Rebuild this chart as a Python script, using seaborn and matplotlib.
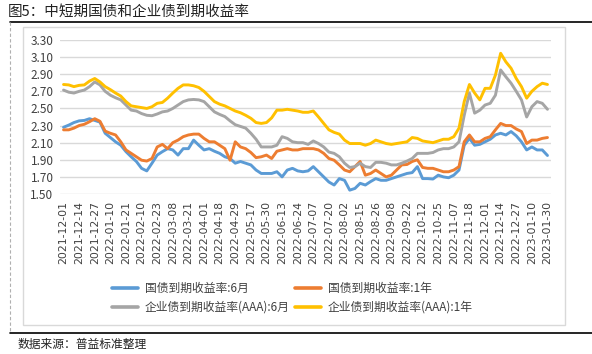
import matplotlib
matplotlib.use("Agg")
import matplotlib.pyplot as plt
import seaborn as sns
import numpy as np
import pandas as pd
from matplotlib.lines import Line2D
from matplotlib.patches import Rectangle

# ---------------- data ----------------
tick_labels = ["2021-12-01", "2021-12-14", "2021-12-27", "2022-01-10", "2022-01-21",
               "2022-02-10", "2022-02-23", "2022-03-08", "2022-03-21", "2022-04-01",
               "2022-04-18", "2022-04-29", "2022-05-17", "2022-05-30", "2022-06-13",
               "2022-06-24", "2022-07-07", "2022-07-20", "2022-08-02", "2022-08-15",
               "2022-08-26", "2022-09-08", "2022-09-22", "2022-10-12", "2022-10-25",
               "2022-11-07", "2022-11-18", "2022-12-01", "2022-12-14", "2022-12-27",
               "2023-01-10", "2023-01-30"]

gov_6m = [2.28, 2.305, 2.335, 2.355, 2.36, 2.38, 2.36, 2.34, 2.21, 2.16,
          2.11, 2.07, 1.995, 1.935, 1.88, 1.80, 1.77, 1.86, 1.955, 1.995,
          2.03, 2.015, 1.955, 2.03, 2.03, 2.13, 2.07, 2.015, 2.03, 2.00,
          1.975, 1.935, 1.915, 1.86, 1.88, 1.86, 1.84, 1.78, 1.74, 1.74,
          1.74, 1.76, 1.70, 1.78, 1.80, 1.77, 1.76, 1.77, 1.82, 1.76,
          1.70, 1.64, 1.605, 1.68, 1.66, 1.545, 1.565, 1.625, 1.605, 1.645,
          1.68, 1.66, 1.66, 1.68, 1.70, 1.72, 1.74, 1.75, 1.82, 1.68,
          1.68, 1.675, 1.72, 1.70, 1.69, 1.72, 1.78, 2.07, 2.15, 2.07,
          2.08, 2.11, 2.14, 2.19, 2.21, 2.19, 2.23, 2.18, 2.11, 2.015,
          2.05, 2.015, 2.015, 1.95]

gov_1y = [2.25, 2.25, 2.27, 2.30, 2.315, 2.345, 2.38, 2.35, 2.235, 2.21,
          2.19, 2.11, 2.015, 1.975, 1.935, 1.895, 1.885, 1.915, 2.05, 2.08,
          2.03, 2.10, 2.13, 2.17, 2.19, 2.20, 2.20, 2.15, 2.11, 2.11,
          2.07, 2.03, 1.895, 2.11, 2.05, 2.03, 1.985, 1.925, 1.935, 1.955,
          1.915, 2.00, 2.015, 2.03, 2.015, 2.015, 2.03, 2.03, 2.03, 2.015,
          1.975, 1.915, 1.895, 1.84, 1.78, 1.76, 1.82, 1.88, 1.72, 1.74,
          1.78, 1.74, 1.70, 1.72, 1.78, 1.84, 1.845, 1.88, 1.90, 1.81,
          1.80, 1.80, 1.78, 1.76, 1.76, 1.78, 1.82, 2.11, 2.19, 2.11,
          2.11, 2.15, 2.17, 2.25, 2.325, 2.30, 2.30, 2.26, 2.23, 2.09,
          2.13, 2.13, 2.15, 2.16]

corp_6m = [2.715, 2.69, 2.68, 2.70, 2.715, 2.755, 2.81, 2.775, 2.70, 2.655,
           2.625, 2.60, 2.54, 2.48, 2.47, 2.44, 2.42, 2.415, 2.435, 2.46,
           2.47, 2.50, 2.54, 2.58, 2.60, 2.605, 2.60, 2.58, 2.52, 2.46,
           2.43, 2.405, 2.355, 2.31, 2.29, 2.27, 2.21, 2.14, 2.05, 2.05,
           2.05, 2.07, 2.17, 2.15, 2.11, 2.10, 2.10, 2.08, 2.12, 2.09,
           2.05, 1.99, 1.975, 1.935, 1.86, 1.81, 1.82, 1.86, 1.82, 1.81,
           1.87, 1.87, 1.86, 1.84, 1.84, 1.86, 1.885, 1.915, 1.975, 1.975,
           1.975, 1.985, 2.015, 2.03, 2.03, 2.05, 2.11, 2.42, 2.68, 2.445,
           2.48, 2.54, 2.56, 2.655, 2.95, 2.87, 2.795, 2.70, 2.60, 2.40,
           2.52, 2.58, 2.56, 2.49]

corp_1y = [2.78, 2.775, 2.755, 2.77, 2.775, 2.82, 2.85, 2.81, 2.755, 2.72,
           2.68, 2.645, 2.58, 2.53, 2.52, 2.51, 2.50, 2.52, 2.56, 2.57,
           2.62, 2.68, 2.735, 2.775, 2.775, 2.765, 2.745, 2.70, 2.64, 2.58,
           2.55, 2.53, 2.50, 2.47, 2.45, 2.42, 2.385, 2.335, 2.325, 2.335,
           2.39, 2.48, 2.48, 2.49, 2.48, 2.47, 2.455, 2.455, 2.47, 2.40,
           2.325, 2.25, 2.22, 2.20, 2.13, 2.09, 2.09, 2.09, 2.07, 2.09,
           2.13, 2.11, 2.09, 2.08, 2.09, 2.10, 2.11, 2.16, 2.15, 2.12,
           2.11, 2.10, 2.12, 2.14, 2.14, 2.17, 2.27, 2.58, 2.78, 2.68,
           2.60, 2.735, 2.735, 2.89, 3.145, 3.045, 2.97, 2.85, 2.755, 2.62,
           2.70, 2.755, 2.795, 2.78]

series_names = ["国债到期收益率:6月", "国债到期收益率:1年",
                "企业债到期收益率(AAA):6月", "企业债到期收益率(AAA):1年"]
series_values = [gov_6m, gov_1y, corp_6m, corp_1y]
colors = ["#5B9BD5", "#ED7D31", "#A5A5A5", "#FFC000"]
y_ticks = [1.50, 1.70, 1.90, 2.10, 2.30, 2.50, 2.70, 2.90, 3.10, 3.30]

# ---------------- build table ----------------
rows = []
for name, vals in zip(series_names, series_values):
    for i, v in enumerate(vals):
        rows.append({"idx": i, "value": v, "series": name})
df = pd.DataFrame(rows)
n = len(gov_6m)
step = (n - 1) // (len(tick_labels) - 1)

# ---------------- style ----------------
sns.set_theme(style="white")
plt.rcParams["font.family"] = ["Noto Sans CJK SC", "DejaVu Sans"]

W, H = 592, 354
fig = plt.figure(figsize=(W / 100, H / 100), dpi=100)
fig.patch.set_facecolor("white")

def fx(px):
    return px / W

def fy(py):
    return 1 - py / H

ax = fig.add_axes([fx(60.4), fy(194), fx(550.6) - fx(60.4), fy(40) - fy(194)])

sns.lineplot(data=df, x="idx", y="value", hue="series", hue_order=series_names,
             palette=colors, linewidth=2.1, ax=ax, legend=False, sort=False)

ax.set_xlim(-0.6, n - 1 + 0.6)
ax.set_ylim(1.5, 3.3)
ax.set_yticks(y_ticks)
ax.set_yticklabels([f"{t:.2f}" for t in y_ticks], fontsize=8.5, color="#404040")
ax.set_xticks(list(range(0, n, step)))
ax.set_xticklabels(tick_labels, rotation=90, fontsize=7.8, color="#404040",
                   family=["DejaVu Sans"])
ax.tick_params(axis="both", length=0)
ax.tick_params(axis="x", pad=5)
ax.tick_params(axis="y", pad=5)
ax.set_xlabel("")
ax.set_ylabel("")
ax.yaxis.grid(True, color="#d9d9d9", linewidth=1.0)
ax.xaxis.grid(False)
ax.set_axisbelow(True)
for s in ax.spines.values():
    s.set_visible(False)

# ---------------- legend ----------------
handles = [Line2D([0], [0], color=c, lw=2.6) for c in colors]
order = [0, 2, 1, 3]
leg = fig.legend([handles[i] for i in order], [series_names[i] for i in order],
                 loc="upper left", bbox_to_anchor=(fx(112), fy(282)), ncol=2,
                 frameon=False, fontsize=8.5, handlelength=2.2, handletextpad=0.6,
                 columnspacing=0.4, labelspacing=0.5, borderaxespad=0,
                 borderpad=0)
for t in leg.get_texts():
    t.set_color("#404040")

# ---------------- decorations ----------------
fig.text(fx(8), fy(12), "图5：中短期国债和企业债到期收益率", fontsize=10.5,
         color="#222222", va="center", ha="left")
fig.add_artist(Line2D([fx(10), fx(592)], [fy(21.5), fy(21.5)], color="black",
                      lw=1.2, transform=fig.transFigure))
fig.add_artist(Line2D([fx(10), fx(592)], [fy(333), fy(333)], color="black",
                      lw=1.2, transform=fig.transFigure))
fig.add_artist(Line2D([fx(10), fx(10)], [fy(22), fy(333)], color="#b0b0b0",
                      lw=0.8, ls=(0, (3, 2)), transform=fig.transFigure))
fig.add_artist(Rectangle((fx(22.5), fy(325)), fx(565) - fx(22.5), fy(27) - fy(325),
                         fill=False, edgecolor="#d9d9d9", lw=1.0,
                         transform=fig.transFigure))
fig.text(fx(18), fy(344), "数据来源：普益标准整理", fontsize=8.5,
         color="#222222", va="center", ha="left")

fig.savefig("out.png", dpi=100, facecolor="white")
